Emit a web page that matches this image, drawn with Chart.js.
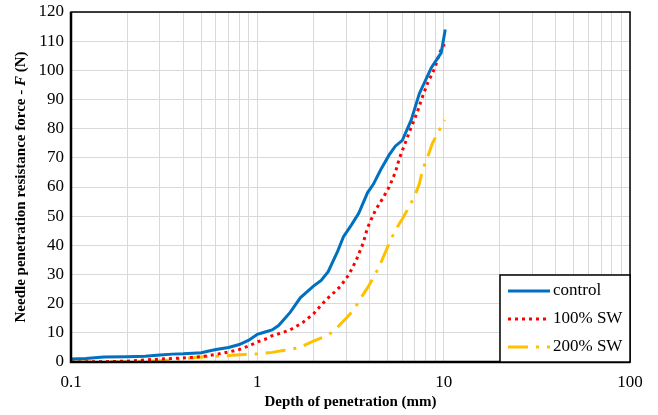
<!DOCTYPE html>
<html>
<head>
<meta charset="utf-8">
<script src="https://cdn.jsdelivr.net/npm/chart.js@4.4.1/dist/chart.umd.min.js"></script>
<style>
  html, body { margin: 0; padding: 0; background: #fff; }
  #wrap { width: 658px; height: 415px; }
</style>
</head>
<body>
<div id="wrap"><canvas id="chart" width="658" height="415"></canvas></div>
<script>
// values
const controlX = [0.1, 0.12, 0.15, 0.2, 0.25, 0.3, 0.35, 0.4, 0.45, 0.5, 0.55, 0.6, 0.7, 0.8, 0.9, 1.0, 1.1, 1.2, 1.3, 1.5, 1.7, 2.0, 2.2, 2.4, 2.7, 2.9, 3.2, 3.5, 3.9, 4.2, 4.6, 5.1, 5.5, 6.0, 6.7, 7.4, 8.6, 9.7, 10.2];
const controlY = [1, 1.2, 1.7, 1.8, 2, 2.4, 2.7, 2.8, 3, 3.2, 3.8, 4.3, 5, 6, 7.5, 9.5, 10.3, 11, 12.5, 17, 22, 26, 28, 31, 38, 43, 47, 51, 58, 61, 66, 71, 74, 76, 83, 92, 101, 106, 114];

const sw100X = [0.1, 0.15, 0.2, 0.25, 0.3, 0.4, 0.5, 0.6, 0.7, 0.8, 0.9, 1.0, 1.1, 1.2, 1.35, 1.5, 1.75, 2.0, 2.2, 2.4, 2.6, 2.8, 3.1, 3.4, 3.7, 3.9, 4.3, 4.7, 5.1, 5.5, 5.8, 6.3, 6.7, 7.2, 7.6, 8.2, 9.0, 9.5, 10.1];
const sw100Y = [0, 0.1, 0.3, 0.7, 1.0, 1.4, 1.8, 2.6, 3.4, 4.3, 5.5, 6.9, 7.8, 9.0, 10, 11, 13.5, 16.5, 19.5, 22, 24, 26, 30, 35, 40.8, 46, 52, 56, 60, 65, 70, 76, 80.6, 85.4, 90, 95.6, 101, 106, 109];

const sw200X = [0.1, 0.2, 0.3, 0.35, 0.4, 0.5, 0.6, 0.7, 0.85, 1.0, 1.2, 1.4, 1.7, 2.0, 2.4, 2.7, 3.0, 3.3, 3.6, 3.9, 4.2, 4.5, 5.0, 5.3, 5.8, 6.0, 6.5, 7.0, 7.4, 7.7, 8.2, 8.7, 9.3, 10.1];
const sw200Y = [0, 0.1, 0.4, 0.8, 1.1, 1.7, 2.0, 2.2, 2.6, 2.8, 3.3, 4.0, 5.0, 7.2, 9.2, 12, 15, 18, 22, 25.4, 29, 32.6, 39.4, 43, 47.6, 49, 53, 57, 61, 65.8, 70.3, 75, 78.5, 83];

const seriesNames = ["control", "100% SW", "200% SW"];
const xMajorTicks = [0.1, 1, 10, 100];
const yTicks = [0, 10, 20, 30, 40, 50, 60, 70, 80, 90, 100, 110, 120];

const pts = (xs, ys) => xs.map((x, i) => ({ x, y: ys[i] }));

// log grid: 1..9 in every decade
const xGridTicks = [];
for (let d = 0; d < xMajorTicks.length - 1; d++) {
  for (let k = 1; k < 10; k++) xGridTicks.push(+(xMajorTicks[d] * k).toPrecision(3));
}
xGridTicks.push(xMajorTicks[xMajorTicks.length - 1]);

const SERIF = "'Liberation Serif', 'Times New Roman', serif";
const styles = [
  { color: "#0070C0", dash: [] },
  { color: "#FF0000", dash: [3, 4] },
  { color: "#FFC000", dash: [20, 8, 3, 8] },
];

// frame, y title (with italic F) and boxed legend
const decor = {
  id: "decor",
  afterDraw(chart) {
    const { ctx, chartArea: a } = chart;
    ctx.save();
    ctx.strokeStyle = "#000";
    ctx.lineWidth = 1.5;
    ctx.strokeRect(a.left, a.top, a.right - a.left, a.bottom - a.top);
    ctx.lineWidth = 2.5;
    ctx.beginPath();
    ctx.moveTo(a.left, a.top);
    ctx.lineTo(a.left, a.bottom);
    ctx.lineTo(a.right, a.bottom);
    ctx.stroke();

    // y axis title
    const parts = [
      ["bold 15px " + SERIF, "Needle penetration resistance force - "],
      ["italic bold 15px " + SERIF, "F"],
      ["bold 15px " + SERIF, " (N)"],
    ];
    let total = 0;
    parts.forEach(([f, t]) => { ctx.font = f; total += ctx.measureText(t).width; });
    ctx.translate(21, (a.top + a.bottom) / 2);
    ctx.rotate(-Math.PI / 2);
    ctx.fillStyle = "#000";
    ctx.textBaseline = "middle";
    let px = -total / 2;
    parts.forEach(([f, t]) => {
      ctx.font = f;
      ctx.fillText(t, px, 0);
      px += ctx.measureText(t).width;
    });
    ctx.restore();

    // legend
    ctx.save();
    const w = 130, h = 87;
    const lx = a.right - w, ly = a.bottom - h;
    ctx.fillStyle = "#fff";
    ctx.fillRect(lx, ly, w, h);
    ctx.strokeStyle = "#000";
    ctx.lineWidth = 1.5;
    ctx.strokeRect(lx, ly, w, h);
    ctx.font = "17px " + SERIF;
    ctx.textBaseline = "middle";
    seriesNames.forEach((name, i) => {
      const y = ly + 16 + i * 28;
      ctx.strokeStyle = styles[i].color;
      ctx.lineWidth = 3;
      ctx.setLineDash(styles[i].dash);
      ctx.beginPath();
      ctx.moveTo(lx + 8, y);
      ctx.lineTo(lx + 50, y);
      ctx.stroke();
      ctx.setLineDash([]);
      ctx.fillStyle = "#000";
      ctx.fillText(name, lx + 53, y);
    });
    ctx.restore();
  },
};

const seriesData = [pts(controlX, controlY), pts(sw100X, sw100Y), pts(sw200X, sw200Y)];

new Chart(document.getElementById("chart"), {
  type: "scatter",
  data: {
    datasets: seriesData.map((d, i) => ({
      label: seriesNames[i],
      data: d,
      showLine: true,
      borderColor: styles[i].color,
      backgroundColor: styles[i].color,
      borderWidth: 3,
      borderDash: styles[i].dash,
      pointRadius: 0,
      tension: 0,
    })),
  },
  options: {
    responsive: false,
    animation: false,
    devicePixelRatio: 1,
    layout: { padding: { left: 0, right: 28, top: 12, bottom: 0 } },
    plugins: { legend: { display: false }, tooltip: { enabled: false } },
    scales: {
      x: {
        type: "logarithmic",
        min: 0.1,
        max: 100,
        afterBuildTicks: (s) => { s.ticks = xGridTicks.map((v) => ({ value: v })); },
        afterFit: (s) => { s.height = 53; s.paddingLeft = 0; s.paddingRight = 0; },
        ticks: {
          autoSkip: false,
          maxRotation: 0,
          color: "#000",
          font: { family: SERIF, size: 17 },
          padding: 10,
          callback: (v) => (xMajorTicks.includes(+(+v).toPrecision(3)) ? String(+(+v).toPrecision(3)) : ""),
        },
        grid: { color: "#d9d9d9", lineWidth: 1, drawTicks: false },
        border: { display: false },
        title: {
          display: true,
          text: "Depth of penetration (mm)",
          color: "#000",
          font: { family: SERIF, size: 15, weight: "bold" },
          padding: { top: 1, bottom: 4 },
        },
      },
      y: {
        min: 0,
        max: 120,
        afterBuildTicks: (s) => { s.ticks = yTicks.map((v) => ({ value: v })); },
        afterFit: (s) => { s.width = 71; s.paddingTop = 0; s.paddingBottom = 0; },
        ticks: {
          color: "#000",
          font: { family: SERIF, size: 17 },
          padding: 7,
        },
        grid: { color: "#d9d9d9", lineWidth: 1, drawTicks: false },
        border: { display: false },
      },
    },
  },
  plugins: [decor],
});
</script>
</body>
</html>
